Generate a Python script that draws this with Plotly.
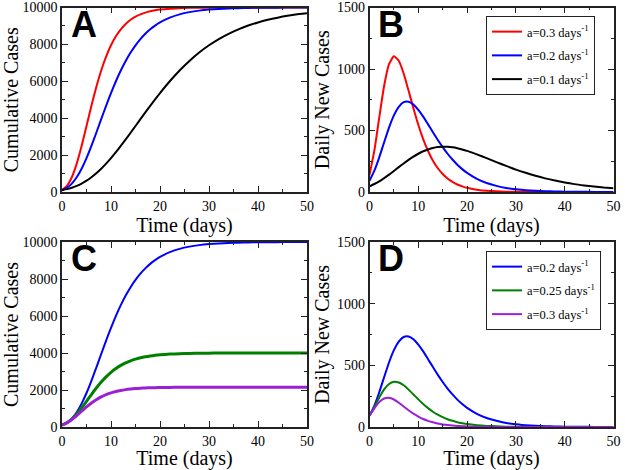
import plotly.graph_objects as go

# Time grid (days)
t = [0, 1, 2, 3, 4, 5, 6, 7, 8, 9, 10, 11, 12, 13, 14, 15, 16, 17, 18, 19, 20,
     22, 24, 26, 28, 30, 32, 34, 36, 38, 40, 42, 44, 46, 48, 50]

# Panel A: cumulative cases
cum_a03 = [100, 330, 799, 1538, 2498, 3579, 4671, 5689, 6585, 7338, 7951, 8437, 8818, 9110, 9333,
           9501, 9628, 9723, 9794, 9847, 9886, 9938, 9966, 9981, 9990, 9994, 9997, 9998, 9999,
           10000, 10000, 10000, 10000, 10000, 10000, 10000]
cum_a02 = [100, 230, 456, 799, 1263, 1838, 2498, 3212, 3946, 4671, 5362, 6003, 6585, 7103, 7558,
           7951, 8289, 8575, 8818, 9021, 9191, 9450, 9628, 9749, 9831, 9886, 9924, 9949, 9966,
           9977, 9985, 9990, 9993, 9995, 9997, 9998]
cum_a01 = [100, 155, 230, 330, 456, 612, 799, 1016, 1263, 1538, 1838, 2159, 2498, 2851, 3212,
           3579, 3946, 4312, 4671, 5021, 5362, 6003, 6585, 7103, 7558, 7951, 8289, 8575, 8818,
           9021, 9191, 9333, 9450, 9548, 9628, 9694]

# Panel B: daily new cases
new_a03 = [138, 338, 606, 864, 1039, 1103, 1067, 963, 825, 681, 547, 430, 333, 255, 193,
           146, 109, 82, 61, 46, 34, 19, 10, 6, 3, 2, 1, 1, 0, 0, 0, 0, 0, 0, 0, 0]
new_a02 = [92, 174, 282, 404, 523, 623, 693, 730, 734, 711, 668, 613, 550, 486, 423,
           365, 311, 264, 222, 186, 155, 107, 73, 50, 33, 23, 15, 10, 7, 5, 3, 2, 1.4, 1, 0.6, 0.4]
new_a01 = [46, 65, 87, 113, 141, 171, 202, 232, 261, 288, 311, 331, 346, 358, 365,
           368, 367, 363, 356, 346, 334, 306, 275, 243, 212, 182, 156, 132, 111, 93, 78, 64, 53,
           44, 36, 30]

# Panel C: cumulative cases
cum_c02 = cum_a02
cum_c025 = [100, 226, 427, 700, 1030, 1390, 1756, 2107, 2428, 2711, 2955, 3160, 3329, 3467, 3578,
            3668, 3739, 3795, 3839, 3874, 3902, 3940, 3964, 3978, 3987, 3992, 3995, 3997, 3998,
            3999, 4000, 4000, 4000, 4000, 4000, 4000]
cum_c03 = [100, 221, 399, 618, 853, 1084, 1295, 1477, 1628, 1749, 1845, 1920, 1977, 2021, 2053,
           2078, 2096, 2110, 2120, 2128, 2134, 2141, 2145, 2148, 2149, 2150, 2150, 2150, 2150,
           2150, 2150, 2150, 2150, 2150, 2150, 2150]

# Panel D: daily new cases
new_d02 = new_a02
new_d025 = [92, 162, 239, 305, 349, 367, 361, 338, 303, 264, 224, 186, 153, 124, 100,
            80, 63, 50, 39, 31, 24, 15, 9, 5.5, 3, 2, 1.2, 0.7, 0.4, 0, 0, 0, 0, 0, 0, 0]
new_d03 = [92, 151, 202, 231, 237, 223, 197, 166, 136, 108, 85, 65, 50, 38, 28,
           21, 16, 12, 9, 6.5, 5, 2.7, 1.5, 0.8, 0.4, 0, 0, 0, 0, 0, 0, 0, 0, 0, 0, 0]

labels_b = ["a=0.3 days<sup>-1</sup>", "a=0.2 days<sup>-1</sup>", "a=0.1 days<sup>-1</sup>"]
labels_d = ["a=0.2 days<sup>-1</sup>", "a=0.25 days<sup>-1</sup>", "a=0.3 days<sup>-1</sup>"]

RED, BLUE, BLACK, GREEN, PURPLE = "#ff0000", "#0000ff", "#000000", "#008000", "#9b1fd6"

fig = go.Figure()

def add(y, color, xa, ya, name=None, legend=None, width=2):
    fig.add_trace(go.Scatter(
        x=t, y=y, mode="lines", line=dict(color=color, width=width, shape="spline", smoothing=0.5),
        xaxis=xa, yaxis=ya, name=name, showlegend=name is not None, legendgroup=name,
        legend=legend if legend else "legend"))

add(cum_a03, RED, "x", "y")
add(cum_a02, BLUE, "x", "y")
add(cum_a01, BLACK, "x", "y")

add(new_a03, RED, "x2", "y2", labels_b[0], "legend")
add(new_a02, BLUE, "x2", "y2", labels_b[1], "legend")
add(new_a01, BLACK, "x2", "y2", labels_b[2], "legend")

add(cum_c02, BLUE, "x3", "y3")
add(cum_c025, GREEN, "x3", "y3", width=3)
add(cum_c03, PURPLE, "x3", "y3", width=3)

add(new_d02, BLUE, "x4", "y4", labels_d[0], "legend2")
add(new_d025, GREEN, "x4", "y4", labels_d[1], "legend2")
add(new_d03, PURPLE, "x4", "y4", labels_d[2], "legend2")

W, H = 625, 470
serif = "Liberation Serif"

def hx(px):
    return px / W

def vy(py):
    return 1 - py / H

xl, xr = [hx(62), hx(307)], [hx(369.5), hx(613.5)]
yt, yb = [vy(192), vy(7.5)], [vy(427), vy(242)]

def xaxis(dom, anchor):
    return dict(domain=dom, anchor=anchor, range=[0, 50], dtick=10, tick0=0, automargin=False,
                ticks="inside", ticklen=6, tickwidth=1.3, tickcolor="#222",
                minor=dict(dtick=5, ticks="inside", ticklen=3, tickwidth=1.3, tickcolor="#222"),
                showline=True, linecolor="#222", linewidth=1.5, mirror="allticks",
                showgrid=False, zeroline=False, tickformat="d", ticklabeloverflow="allow",
                tickfont=dict(family=serif, size=14, color="black"),
                title=dict(text="Time (days)", font=dict(family=serif, size=20, color="black"),
                           standoff=2))

def yaxis(dom, anchor, rng, dt, mdt, title):
    return dict(domain=dom, anchor=anchor, range=rng, dtick=dt, tick0=0, automargin=False,
                ticks="inside", ticklen=6, tickwidth=1.3, tickcolor="#222",
                minor=dict(dtick=mdt, ticks="inside", ticklen=3, tickwidth=1.3, tickcolor="#222"),
                showline=True, linecolor="#222", linewidth=1.5, mirror="allticks",
                showgrid=False, zeroline=False, tickformat="d", ticklabeloverflow="allow",
                tickfont=dict(family=serif, size=14, color="black"),
                title=dict(text=title, font=dict(family=serif, size=20, color="black"),
                           standoff=2))

leg_common = dict(bgcolor="white", bordercolor="#222", borderwidth=1,
                  font=dict(family=serif, size=12.5, color="black"),
                  xanchor="left", yanchor="top", itemwidth=30, tracegroupgap=4.5)

fig.update_layout(
    width=W, height=H, margin=dict(l=0, r=0, t=0, b=0, autoexpand=False),
    paper_bgcolor="white", plot_bgcolor="white",
    xaxis=xaxis(xl, "y"), yaxis=yaxis(yt, "x", [0, 10000], 2000, 1000, "Cumulative Cases"),
    xaxis2=xaxis(xr, "y2"), yaxis2=yaxis(yt, "x2", [0, 1500], 500, 250, "Daily New Cases"),
    xaxis3=xaxis(xl, "y3"), yaxis3=yaxis(yb, "x3", [0, 10000], 2000, 1000, "Cumulative Cases"),
    xaxis4=xaxis(xr, "y4"), yaxis4=yaxis(yb, "x4", [0, 1500], 500, 250, "Daily New Cases"),
    legend=dict(x=hx(486), y=vy(16), **leg_common),
    legend2=dict(x=hx(486), y=vy(251), **leg_common),
    showlegend=True,
)

letters = [("A", "x", "y"), ("B", "x2", "y2"), ("C", "x3", "y3"), ("D", "x4", "y4")]
for txt, xa, ya in letters:
    fig.add_annotation(text="<b>" + txt + "</b>", xref=xa + " domain", yref=ya + " domain",
                       x=0.027, y=1.03, xanchor="left", yanchor="top", showarrow=False,
                       font=dict(family="Liberation Sans", size=36, color="black"))

fig.write_html("out.html", config={"displayModeBar": False},
               post_script="document.body.style.margin='0';")
